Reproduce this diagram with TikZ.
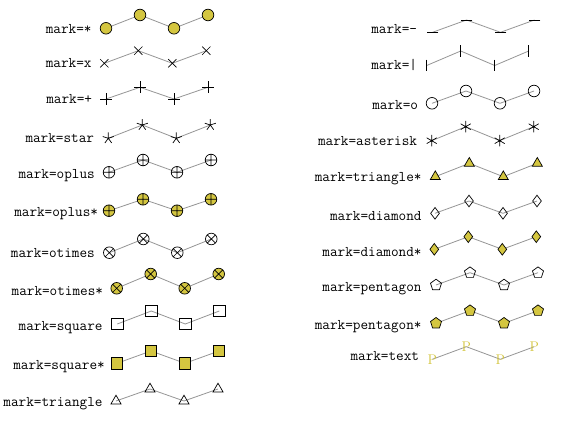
\documentclass[tikz,border=0pt]{standalone}
\usepackage{fontspec}
\usetikzlibrary{plotmarks}
\definecolor{markfill}{RGB}{212,198,64}
\definecolor{linegray}{RGB}{150,150,150}
\tikzset{
  lbl/.style={anchor=base east, inner sep=0pt, font=\ttfamily\fontsize{14.8}{16}\selectfont},
  plotline/.style={draw=linegray, line width=0.8pt, mark size=5.8pt,
    mark options={draw=black, line width=0.7pt}},
  filledmarks/.style={mark options={draw=black, fill=markfill, line width=0.7pt}},
  textmark/.style={text=markfill, inner sep=0pt, font=\fontsize{14}{14}\selectfont},
}
\begin{document}
\begin{tikzpicture}[x=1pt,y=-1pt]
\fill[white] (0,0) rectangle (572,430);
\useasboundingbox (0,0) rectangle (572,430);

% ---------- left column ----------
\node[lbl] (l1) at (91.7,34) {mark=*};
\draw[plotline] plot[mark=*, filledmarks] coordinates {(106,28.3) (140,15) (174,28.3) (208,15)};

\node[lbl] (l2) at (91.7,67.7) {mark=x};
\draw[plotline] plot[mark=x] coordinates {(104.3,63.3) (138.3,50.7) (172.3,63.3) (206.3,50.7)};

\node[lbl] (l3) at (92.3,104) {mark=+};
\draw[plotline] plot[mark=+] coordinates {(106,99) (140,87.3) (174,99) (208,87.3)};

\node[lbl] (l4) at (94.3,142.7) {mark=star};
\draw[plotline] plot[mark=star] coordinates {(108.3,138.3) (142.3,125) (176.3,138.3) (210.3,125)};

\node[lbl] (l5) at (95,178.3) {mark=oplus};
\draw[plotline] plot[mark=oplus] coordinates {(109,172.3) (143,160) (177,172.3) (211,160)};

\node[lbl] (l6) at (98.3,216.7) {mark=oplus*};
\draw[plotline] plot[mark=oplus*, filledmarks] coordinates {(109,210.7) (143,199.3) (177,210.7) (211,199.3)};

\node[lbl] (l7) at (95,257.3) {mark=otimes};
\draw[plotline] plot[mark=otimes] coordinates {(109.3,252.7) (143.3,239) (177.3,252.7) (211.3,239)};

\node[lbl] (l8) at (103.3,295) {mark=otimes*};
\draw[plotline] plot[mark=otimes*, filledmarks] coordinates {(116.7,288.3) (150.7,274) (184.7,288.3) (218.7,274)};

\node[lbl] (l9) at (102.7,330.7) {mark=square};
\draw[plotline] plot[mark=square] coordinates {(117.3,324) (151.3,311) (185.3,324) (219.3,311)};

\node[lbl] (l10) at (105,369.3) {mark=square*};
\draw[plotline] plot[mark=square*, filledmarks] coordinates {(117,363.3) (151,351) (185,363.3) (219,351)};

\node[lbl] (l11) at (102.7,406) {mark=triangle};
\draw[plotline] plot[mark=triangle] coordinates {(116,401) (150,389) (184,401) (218,389)};

% ---------- right column ----------
\node[lbl] (r1) at (417.3,33.3) {mark=–};
\draw[plotline] plot[mark=-] coordinates {(432.5,32.3) (466.5,20) (500.5,32.3) (534.5,20)};

\node[lbl] (r2) at (417.3,70) {mark=|};
\draw[plotline] plot[mark=|] coordinates {(426.7,65.5) (460.7,51) (494.7,65.5) (528.7,51)};

\node[lbl] (r3) at (418.3,110) {mark=o};
\draw[plotline] plot[mark=o] coordinates {(432,103.3) (466,91) (500,103.3) (534,91)};

\node[lbl] (r4) at (417.3,146) {mark=asterisk};
\draw[plotline] plot[mark=asterisk] coordinates {(431.7,140.7) (465.7,126.7) (499.7,140.7) (533.7,126.7)};

\node[lbl] (r5) at (421.7,181.7) {mark=triangle*};
\draw[plotline] plot[mark=triangle*, filledmarks] coordinates {(435.3,176.7) (469.3,163.3) (503.3,176.7) (537.3,163.3)};

\node[lbl] (r6) at (421.7,220) {mark=diamond};
\draw[plotline] plot[mark=diamond] coordinates {(435,213.3) (469,201) (503,213.3) (537,201)};

\node[lbl] (r7) at (421.7,256) {mark=diamond*};
\draw[plotline] plot[mark=diamond*, filledmarks] coordinates {(434.3,249.3) (468.3,236.7) (502.3,249.3) (536.3,236.7)};

\node[lbl] (r8) at (421.7,291.7) {mark=pentagon};
\draw[plotline] plot[mark=pentagon] coordinates {(436,285) (470,272.7) (504,285) (538,272.7)};

\node[lbl] (r9) at (421.7,329.3) {mark=pentagon*};
\draw[plotline] plot[mark=pentagon*, filledmarks] coordinates {(436,323.3) (470,310.7) (504,323.3) (538,310.7)};

\node[lbl] (r10) at (419.3,360) {mark=text};
\coordinate (t1) at (432.3,359.3);
\coordinate (t2) at (466.3,346.7);
\coordinate (t3) at (500.3,359.3);
\coordinate (t4) at (534.3,346.7);
\draw[draw=linegray, line width=0.8pt] (t1) -- (t2) -- (t3) -- (t4);
\foreach \i in {1,...,4} \node[textmark] (p\i) at (t\i) {P};
\end{tikzpicture}
\end{document}
